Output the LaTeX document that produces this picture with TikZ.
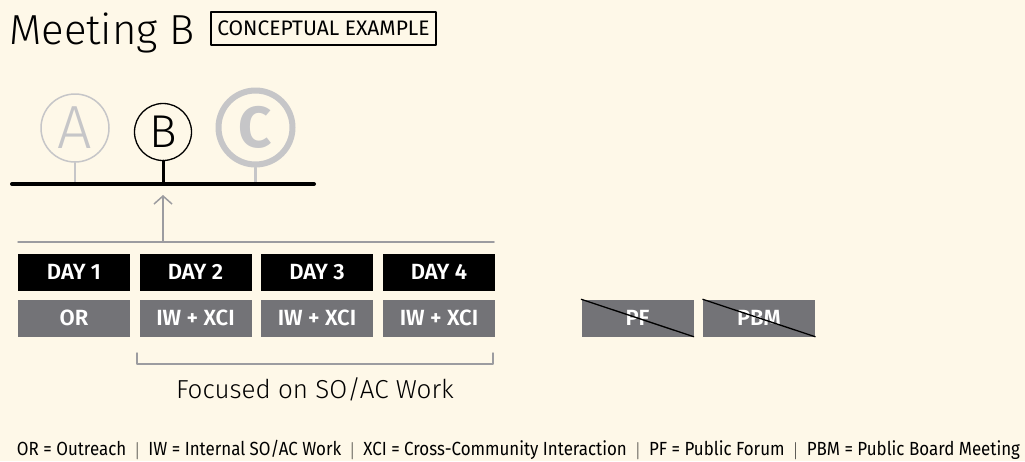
\documentclass[tikz,border=0pt]{standalone}
\usepackage{fontspec}
\usepackage{graphicx}
\setmainfont{Fira Sans}
\newfontfamily\lightfont{Fira Sans Light}
\newfontfamily\semifont{Fira Sans SemiBold}
\usetikzlibrary{arrows.meta}
\definecolor{paper}{HTML}{FEF8E8}
\definecolor{boxgray}{HTML}{737377}
\definecolor{linegray}{HTML}{9C9CA0}
\definecolor{ringgray}{HTML}{C6C6C8}

\begin{document}
\begin{tikzpicture}[x=1pt,y=-1pt,line cap=round,line join=round,
		daybox/.style={fill=black,text=white,minimum width=112pt,minimum height=37pt,inner sep=0pt,font=\semifont\fontsize{22}{22}\selectfont},
		sessbox/.style={daybox,fill=boxgray},
		meetring/.style={circle,inner sep=0pt}]
		\useasboundingbox[fill=paper] (0,0) rectangle (1025,461);
		% title
		\node[anchor=base west,inner sep=0pt,font=\lightfont\fontsize{42}{42}\selectfont] (title) at (9,44) {Meeting B};
		\node[draw,line width=1.6pt,minimum width=225pt,minimum height=33pt,inner sep=0pt,font=\fontsize{21}{21}\selectfont] (tag) at (323.5,28.5) {CONCEPTUAL EXAMPLE};
		% meetings on the time line
		\coordinate (barl) at (12,184);
		\coordinate (barr) at (314,184);
		\node[meetring,draw=ringgray,line width=1.5pt,minimum size=68pt,text=ringgray,font=\lightfont\fontsize{61}{61}\selectfont] (ma) at (75,128) {A};
		\node[meetring,draw=black,line width=1.3pt,minimum size=57pt,font=\lightfont\fontsize{46}{46}\selectfont] (mb) at (163,132) {B};
		\node[meetring,draw=ringgray,line width=6pt,minimum size=74pt,text=ringgray,font=\fontsize{58}{58}\selectfont\bfseries] (mc) at (255.5,127.5) {C};
		\draw[ringgray,line width=2pt] (ma.south) -- (ma.south |- barl);
		\draw[ringgray,line width=3pt] (mc.south) -- (mc.south |- barl);
		\draw[line width=3pt] (mb.south) -- (mb.south |- barl);
		\draw[line width=4pt] (barl) -- (barr);
		% pointer from the days
		\coordinate (rulel) at (18,242);
		\coordinate (ruler) at (494,242);
		\coordinate (tip) at (163,195);
		\draw[linegray,line width=1.5pt] (rulel) -- (ruler);
		\draw[linegray,line width=1.5pt,-{Straight Barb[length=8pt,width=18pt,line width=1.5pt]}] (mb.south |- rulel) -- (tip);
		% days
		\node[daybox] (d1) at (74,272) {DAY 1};
		\node[daybox] (d2) at (195.5,272) {DAY 2};
		\node[daybox] (d3) at (317,272) {DAY 3};
		\node[daybox] (d4) at (439,272) {DAY 4};
		\node[sessbox] (s1) at (74,318) {OR};
		\node[sessbox] (s2) at (195.5,318) {IW + XCI};
		\node[sessbox] (s3) at (317,318) {IW + XCI};
		\node[sessbox] (s4) at (439,318) {IW + XCI};
		\node[sessbox] (pf) at (637.5,318) {PF};
		\node[sessbox] (pbm) at (759,318) {PBM};
		\draw[line width=1.3pt] (pf.north west) -- (pf.south east);
		\draw[line width=1.3pt] (pbm.north west) -- (pbm.south east);
		% bracket
		\coordinate (brl) at (137,353);
		\coordinate (brr) at (493,353);
		\draw[linegray,line width=1.5pt] (brl) -- ++(0,11) -| (brr);
		\node[font=\lightfont\fontsize{26}{26}\selectfont] (focus) at (315,389) {Focused on SO/AC Work};
		% key
		\node[font=\fontsize{19}{19}\selectfont] (key) at (518.5,450) {\resizebox{1003pt}{\height}{OR = Outreach \ $|$ \ IW = Internal SO/AC Work \ $|$ \ XCI = Cross-Community Interaction \ $|$ \ PF = Public Forum \ $|$ \ PBM = Public Board Meeting}};
\end{tikzpicture}
\end{document}
